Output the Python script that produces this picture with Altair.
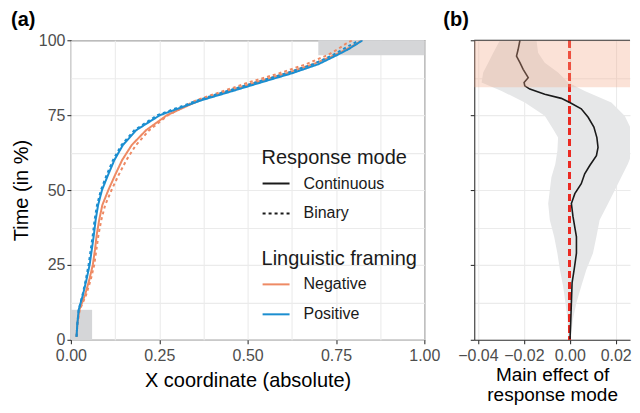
import altair as alt
import pandas as pd

# ---------------- data: panel (a) ----------------
time_pct = [1, 5, 10, 15, 20, 25, 30, 35, 40, 45, 50, 55, 60, 65, 70, 75, 80, 83, 86, 89, 92, 95, 97, 99, 100]
pos_cont = [0.016, 0.018, 0.022, 0.034, 0.044, 0.053, 0.059, 0.065, 0.070, 0.077, 0.088, 0.105, 0.123, 0.147,
            0.185, 0.252, 0.370, 0.456, 0.540, 0.626, 0.700, 0.752, 0.785, 0.812, 0.825]
pos_bin = [0.016, 0.018, 0.022, 0.033, 0.042, 0.050, 0.056, 0.062, 0.067, 0.074, 0.085, 0.101, 0.119, 0.143,
           0.180, 0.245, 0.360, 0.440, 0.525, 0.610, 0.685, 0.740, 0.770, 0.800, 0.815]
neg_cont = [0.016, 0.018, 0.024, 0.040, 0.052, 0.062, 0.068, 0.073, 0.080, 0.089, 0.106, 0.125, 0.145, 0.172,
            0.213, 0.272, 0.365, 0.445, 0.525, 0.610, 0.685, 0.745, 0.780, 0.810, 0.823]
neg_bin = [0.016, 0.018, 0.025, 0.043, 0.056, 0.066, 0.072, 0.078, 0.086, 0.097, 0.115, 0.135, 0.157, 0.184,
           0.222, 0.275, 0.355, 0.430, 0.505, 0.590, 0.665, 0.725, 0.755, 0.780, 0.795]
framings = ["Negative", "Positive"]
modes = ["Continuous", "Binary"]

# shaded regions in panel (a): x from, x to, time from, time to
reg_x1 = [0.70, 0.00]
reg_x2 = [1.00, 0.06]
reg_y1 = [95, 0]
reg_y2 = [100, 10]

# ---------------- data: panel (b) ----------------
eff_time = [0.2, 5.7, 12.4, 19, 23.4, 28.9, 34.4, 41.1, 45.5, 48.8, 52.1, 55.4, 58.2, 61.5, 64.2, 67.5,
            71, 74.3, 77.1, 79.2, 80.6, 82, 83.7, 84.8, 85.9, 87.5, 90.3, 92.5, 94.7, 96.9, 100]
eff_val = [0.0001, 0.0004, 0.0007, 0.0010, 0.0019, 0.0029, 0.0029, 0.0014, 0.0007, 0.0022, 0.0050, 0.0065,
           0.0087, 0.0116, 0.0123, 0.0118, 0.0105, 0.0080, 0.0050, 0.0000, -0.0037, -0.0109, -0.0174,
           -0.0196, -0.0199, -0.0181, -0.0203, -0.0217, -0.0232, -0.0225, -0.0217]

ci_time = [0.2, 6.9, 12.4, 17.9, 23.4, 28.9, 34.4, 40, 45.5, 49.9, 54.3, 58.7, 63.1, 67.5, 70.4, 74.8,
           79.2, 83.1, 85.9, 89.2, 92.5, 95.8, 100]
ci_lo = [-0.0006, -0.0010, -0.0019, -0.0029, -0.0043, -0.0054, -0.0068, -0.0087, -0.0094, -0.0087, -0.0080,
         -0.0063, -0.0054, -0.0051, -0.0073, -0.0109, -0.0196, -0.0297, -0.0384, -0.0377, -0.0355, -0.0333,
         -0.0304]
ci_hi = [0.0004, 0.0014, 0.0029, 0.0050, 0.0072, 0.0101, 0.0116, 0.0130, 0.0167, 0.0196, 0.0224, 0.0253,
         0.0275, 0.0283, 0.0267, 0.0239, 0.0181, 0.0065, -0.0007, -0.0051, -0.0109, -0.0138, -0.0145]

pink_y1 = [84.3]
pink_y2 = [100]

panel_tags = ["(a)", "(b)"]

# ---------------- build tables ----------------
rows = []
for fr, md, xs in [("Negative", "Continuous", neg_cont), ("Negative", "Binary", neg_bin),
                   ("Positive", "Continuous", pos_cont), ("Positive", "Binary", pos_bin)]:
    for t, x in zip(time_pct, xs):
        rows.append({"framing": fr, "mode": md, "time": t, "x": x})
curves = pd.DataFrame(rows)
regions = pd.DataFrame({"x1": reg_x1, "x2": reg_x2, "y1": reg_y1, "y2": reg_y2})
effect = pd.DataFrame({"time": eff_time, "eff": eff_val})
ci = pd.DataFrame({"time": ci_time, "lo": ci_lo, "hi": ci_hi})
pink = pd.DataFrame({"y1": pink_y1, "y2": pink_y2})

FONT = "Liberation Sans"
ORANGE = "#EE8A64"
BLUE = "#1B8ED0"
BORDER = "#333333"
WA, HA = 354, 300
WB = 156
XB_MIN = -0.0416
XB_MAX = XB_MIN + WB / 2300.0   # keeps 46 px per 0.02

x_vals_a = [0, 0.125, 0.25, 0.375, 0.5, 0.625, 0.75, 0.875, 1.0]
y_vals = [0, 12.5, 25, 37.5, 50, 62.5, 75, 87.5, 100]
x_vals_b = [-0.04, -0.03, -0.02, -0.01, 0.0, 0.01, 0.02]

tick_op_xa = {"condition": {"test": "round(datum.value*8) % 2 == 1", "value": 0}, "value": 1}
tick_op_y = {"condition": {"test": "datum.value % 25 != 0", "value": 0}, "value": 1}
tick_op_xb = {"condition": {"test": "abs(round(datum.value*100)) % 2 == 1", "value": 0}, "value": 1}

xscale_a = alt.Scale(domain=[0, 1], nice=False, zero=False, padding=0)
yscale = alt.Scale(domain=[0, 100], nice=False, zero=False, padding=0)
xscale_b = alt.Scale(domain=[XB_MIN, XB_MAX], nice=False, zero=False, padding=0)

xaxis_a = alt.Axis(values=x_vals_a, format=".2f", title="X coordinate (absolute)",
                   labelExpr="round(datum.value*8) % 2 == 1 ? '' : datum.label",
                   tickOpacity=tick_op_xa, labelFlush=False, labelPadding=4, titlePadding=7)
yaxis_a = alt.Axis(values=y_vals, format="d", title="Time (in %)",
                   labelExpr="datum.value % 25 != 0 ? '' : datum.label",
                   tickOpacity=tick_op_y, labelFlush=False, labelPadding=2, titlePadding=7)

rect_a = alt.Chart(regions).mark_rect(color="#d5d6d8").encode(
    x=alt.X("x1:Q", scale=xscale_a, axis=xaxis_a),
    x2="x2:Q",
    y=alt.Y("y1:Q", scale=yscale, axis=yaxis_a),
    y2="y2:Q",
)

leg_common = dict(orient="none", symbolType="stroke", symbolSize=729, symbolStrokeWidth=2,
                  labelFontSize=16, titleFontSize=20, titleFontWeight="normal",
                  labelOffset=13, rowPadding=7, titlePadding=1,
                  labelColor="#1a1a1a", titleColor="#1a1a1a")

lines_a = alt.Chart(curves).mark_line(strokeWidth=2, clip=True).encode(
    x=alt.X("x:Q", scale=xscale_a, axis=xaxis_a),
    y=alt.Y("time:Q", scale=yscale, axis=yaxis_a),
    color=alt.Color("framing:N", scale=alt.Scale(domain=framings, range=[ORANGE, BLUE]),
                    legend=alt.Legend(title="Linguistic framing", legendX=191, legendY=209, **leg_common)),
    strokeDash=alt.StrokeDash("mode:N", scale=alt.Scale(domain=modes, range=[[1, 0], [3, 3]]),
                              legend=alt.Legend(title="Response mode", legendX=191, legendY=108,
                                                symbolStrokeColor="#1a1a1a", **leg_common)),
    order=alt.Order("time:Q"),
)

tag_a = alt.Chart(pd.DataFrame({"tag": [panel_tags[0]]})).mark_text(
    fontSize=20, fontWeight="bold", align="left", baseline="middle", color="black"
).encode(text="tag:N", x=alt.value(-60), y=alt.value(-20))

panel_a = alt.layer(rect_a, lines_a, tag_a).properties(width=WA, height=HA)

xaxis_b = alt.Axis(values=x_vals_b, format=".2f", title=["Main effect of", "response mode"],
                   labelExpr="abs(round(datum.value*100)) % 2 == 1 ? '' : datum.label",
                   tickOpacity=tick_op_xb, labelFlush=False, labelPadding=4,
                   titlePadding=2, titleFontSize=19, titleLineHeight=20,
                   domain=True, domainColor=BORDER, domainWidth=1.1)
yaxis_b = alt.Axis(values=y_vals, labels=False, title=None, tickOpacity=tick_op_y,
                   domain=True, domainColor=BORDER, domainWidth=1.1)

ribbon = alt.Chart(ci).mark_area(orient="horizontal", color="#e6e7e8", clip=True).encode(
    y=alt.Y("time:Q", scale=yscale, axis=yaxis_b),
    x=alt.X("lo:Q", scale=xscale_b, axis=xaxis_b),
    x2="hi:Q",
)
zero_rule = alt.Chart(effect).mark_rule(color="#ec2a22", strokeWidth=2, strokeDash=[7, 4]).encode(
    x=alt.datum(0, scale=xscale_b),
)
eff_line = alt.Chart(effect).mark_line(color="#1a1a1a", strokeWidth=1.6, clip=True).encode(
    y=alt.Y("time:Q", scale=yscale, axis=yaxis_b),
    x=alt.X("eff:Q", scale=xscale_b, axis=xaxis_b),
    order=alt.Order("time:Q"),
)
pink_rect = alt.Chart(pink).mark_rect(color="#f4a582", opacity=0.32).encode(
    x=alt.value(0), x2=alt.value(WB),
    y=alt.Y("y1:Q", scale=yscale, axis=yaxis_b),
    y2="y2:Q",
)
top_border = alt.Chart(pink).mark_rule(color=BORDER, strokeWidth=1.1).encode(
    x=alt.value(0), x2=alt.value(WB), y=alt.value(0),
)
tag_b = alt.Chart(pd.DataFrame({"tag": [panel_tags[1]]})).mark_text(
    fontSize=20, fontWeight="bold", align="left", baseline="middle", color="black"
).encode(text="tag:N", x=alt.value(-31), y=alt.value(-20))

panel_b = alt.layer(ribbon, zero_rule, eff_line, pink_rect, top_border, tag_b).properties(
    width=WB, height=HA, view=alt.ViewBackground(stroke="transparent"),
)

chart = alt.hconcat(panel_a, panel_b, spacing=50, bounds="flush").properties(
    padding={"left": 2, "top": 1, "right": 0, "bottom": 0}
).configure(
    font=FONT,
).configure_view(
    stroke=BORDER, strokeWidth=1.1,
).configure_axis(
    grid=True, gridColor="#ebebeb", gridWidth=1.1,
    domain=False, tickColor=BORDER, tickSize=4, tickWidth=1.1,
    labelFont=FONT, labelFontSize=16, labelColor="#4d4d4d",
    titleFont=FONT, titleFontSize=20, titleFontWeight="normal", titleColor="black",
).configure_legend(
    labelFont=FONT, titleFont=FONT,
)

chart.save("out.html", embed_options={"renderer": "svg", "actions": False})
